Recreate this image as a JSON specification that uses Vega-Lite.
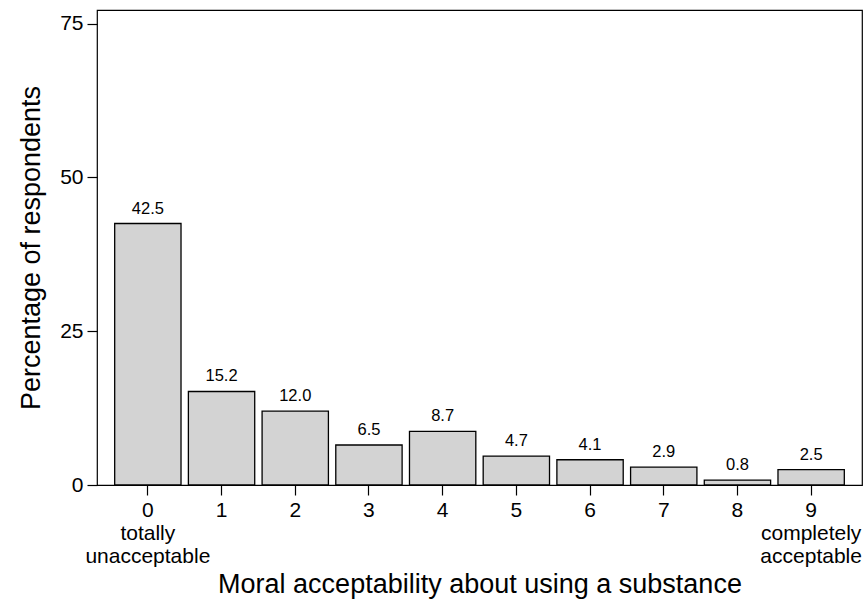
{
  "$schema": "https://vega.github.io/schema/vega-lite/v6.json",
  "width": 765,
  "height": 475,
  "autosize": {"type": "none"},
  "padding": {"left": 97, "top": 10, "right": 3, "bottom": 118},
  "background": "white",
  "config": {
    "font": "Liberation Sans",
    "view": {"stroke": "black", "strokeWidth": 1.2},
    "axis": {"grid": false, "domain": false, "tickColor": "black", "labelColor": "black", "titleColor": "black", "labelFont": "Liberation Sans", "titleFont": "Liberation Sans", "titleFontWeight": "normal"}
  },
  "data": {
    "values": [
      {"score": "0", "pct": 42.5},
      {"score": "1", "pct": 15.2},
      {"score": "2", "pct": 12.0},
      {"score": "3", "pct": 6.5},
      {"score": "4", "pct": 8.7},
      {"score": "5", "pct": 4.7},
      {"score": "6", "pct": 4.1},
      {"score": "7", "pct": 2.9},
      {"score": "8", "pct": 0.8},
      {"score": "9", "pct": 2.5}
    ]
  },
  "encoding": {
    "x": {
      "field": "score", "type": "ordinal", "sort": null,
      "scale": {"paddingInner": 0.1, "paddingOuter": 0.24},
      "axis": {
        "title": "Moral acceptability about using a substance",
        "labelExpr": "datum.label == '0' ? ['0', 'totally', 'unacceptable'] : datum.label == '9' ? ['9', 'completely', 'acceptable'] : datum.label",
        "labelAngle": 0, "labelFontSize": 21, "labelLineHeight": 23, "titleFontSize": 27, "tickSize": 10, "labelPadding": 4, "titlePadding": 5, "tickWidth": 1.2
      }
    }
  },
  "layer": [
    {
      "mark": {"type": "bar", "fill": "#d3d3d3", "stroke": "black", "strokeWidth": 1.3},
      "encoding": {
        "y": {
          "field": "pct", "type": "quantitative",
          "scale": {"domain": [0, 77.2], "nice": false},
          "axis": {"title": "Percentage of respondents", "values": [0, 25, 50, 75], "labelFontSize": 21, "titleFontSize": 27, "tickSize": 10, "labelPadding": 4, "titlePadding": 14, "tickWidth": 1.2}
        }
      }
    },
    {
      "mark": {"type": "text", "baseline": "alphabetic", "dy": -10, "fontSize": 16.5, "color": "black"},
      "encoding": {
        "y": {"field": "pct", "type": "quantitative"},
        "text": {"field": "pct", "type": "quantitative", "format": ".1f"}
      }
    }
  ]
}
